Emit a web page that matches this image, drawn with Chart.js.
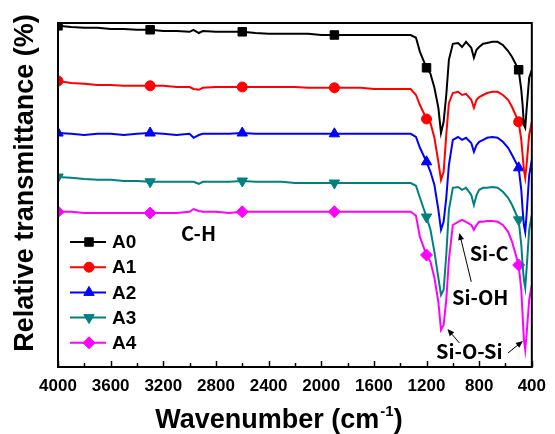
<!DOCTYPE html>
<html><head><meta charset="utf-8">
<script src="https://cdn.jsdelivr.net/npm/chart.js@4"></script>
<style>html,body{margin:0;padding:0;background:#fff}canvas{display:block}</style>
</head><body>
<canvas id="c" width="555" height="434"></canvas>
<script>
// Wavenumber grid (cm-1) shared by all spectra
const wavenumbers = [4000,3900,3800,3700,3600,3500,3400,3300,3200,3100,3000,2970,2930,2900,
  2800,2700,2600,2500,2400,2300,2200,2100,2000,1900,1800,1700,1600,1500,1400,
  1320,1280,1250,1200,1170,1140,1110,1090,1070,1050,1030,1000,
  960,930,900,860,840,820,800,770,740,700,660,620,580,550,
  500,480,470,460,450,440,420,400];

// Relative transmittance (arbitrary offset units)
const A0 = [85.3,85.0,84.8,84.8,84.5,84.5,84.3,84.3,84.0,84.0,83.8,84.3,83.5,84.0,
  83.8,83.8,83.8,83.5,83.3,83.3,83.3,83.3,83.0,83.0,83.0,83.0,83.0,83.0,83.0,
  83.0,82.3,78.8,74.8,73.3,69.8,64.8,58.5,61.3,68.0,76.8,80.8,
  81.0,80.0,81.3,79.8,77.3,79.3,80.0,80.8,81.0,81.3,81.3,80.5,79.0,77.5,
  74.3,69.3,65.5,60.5,59.8,64.3,72.3,74.3];
const A1 = [71.5,71.0,70.8,70.5,70.5,70.3,70.3,70.3,70.3,70.0,70.0,69.5,69.3,69.8,
  70.0,70.0,70.0,70.0,70.0,70.0,70.0,69.8,69.8,69.8,69.8,69.8,69.5,69.5,69.5,
  69.5,68.0,65.5,62.0,61.0,57.3,51.3,46.8,48.8,58.0,66.0,68.5,
  68.8,68.0,68.3,66.8,64.8,66.8,67.5,68.0,68.5,68.8,68.8,68.0,66.8,65.0,
  61.3,56.8,53.0,49.3,47.3,50.5,58.0,61.3];
const A2 = [58.5,58.3,58.0,58.3,58.3,58.0,58.3,58.5,58.3,58.0,58.3,57.3,58.0,58.3,
  58.3,58.3,58.5,58.3,58.3,58.3,58.3,58.3,58.3,58.3,58.3,58.3,58.3,58.3,58.3,
  58.3,57.5,54.8,51.3,48.8,45.5,39.3,34.3,36.3,42.3,50.5,56.8,
  57.5,56.8,57.3,56.0,53.8,55.5,56.3,56.8,57.3,57.5,57.3,56.3,54.8,53.0,
  49.8,44.3,39.3,35.5,33.8,38.0,48.0,51.8];
const A3 = [47.5,47.3,47.0,46.8,46.8,46.5,46.5,46.3,46.3,46.3,46.3,46.3,45.8,46.3,
  46.3,46.3,46.5,46.3,46.3,46.3,46.0,46.0,46.0,46.0,46.0,46.0,46.0,46.0,46.0,
  46.0,45.3,42.3,37.5,34.3,28.8,22.3,18.0,19.3,28.0,39.3,44.8,
  45.0,44.3,44.8,43.0,40.5,43.0,44.3,44.8,44.8,45.0,44.8,43.8,42.3,40.5,
  36.8,30.5,25.5,21.8,19.8,24.3,34.3,38.0];
const A4 = [38.8,38.8,38.5,38.5,38.5,38.5,38.5,38.5,38.5,38.5,38.8,39.5,39.0,38.8,
  38.8,38.5,38.8,38.8,38.8,38.8,38.8,38.8,38.8,38.8,38.8,38.8,38.8,38.8,38.8,
  38.8,37.8,32.5,28.0,26.3,22.3,16.3,9.3,10.5,16.8,26.8,35.5,
  36.3,36.8,36.3,35.5,34.3,35.5,36.3,36.3,36.5,36.5,36.3,35.5,33.8,31.3,
  25.5,19.3,13.0,6.8,4.3,8.0,16.8,20.5];

const seriesNames = ['A0','A1','A2','A3','A4'];
const seriesValues = [A0,A1,A2,A3,A4];
const seriesColors = ['#000000','#ff0000','#0000ff','#008080','#ff00ff'];
const seriesMarkers = ['rect','circle','triangle','triangle','rectRot'];
const markerRotation = [0,0,0,180,0];
const markerRadius = [6,5,6,6,6];
const markerWavenumbers = [4000,3300,2600,1900,1200,500];
const xTickValues = [4000,3600,3200,2800,2400,2000,1600,1200,800,400];
const xTickLabels = ['4000','3600','3200','2800','2400','2000','1600','1200','800','400'];

// Band labels: [text, wavenumber, value]
const bandLabels = [['C-H',2932,33.3],['Si-C',724,28.5],['Si-OH',792,17.5],['Si-O-Si',875,3.8]];
// Arrows: [fromWn, fromVal, toWn, toVal]
const bandArrows = [[860,21.3,950,33.5],[950,6.0,1041,9.5],[581,3.5,468,6.5]];

const datasets = seriesNames.map((name,i)=>({
  label: name,
  data: wavenumbers.map((w,j)=>({x:w,y:seriesValues[i][j]})),
  borderColor: seriesColors[i],
  backgroundColor: seriesColors[i],
  borderWidth: 2,
  tension: 0,
  pointStyle: seriesMarkers[i],
  rotation: markerRotation[i],
  pointRadius: ctx => markerWavenumbers.includes(wavenumbers[ctx.dataIndex]) ? markerRadius[i] : 0,
  pointBorderWidth: 1,
  pointBorderColor: seriesColors[i],
  pointBackgroundColor: seriesColors[i],
  clip: 0
}));

const decor = {
  id:'decor',
  afterDatasetsDraw(chart){
    const {ctx, chartArea:a, scales:{x,y}} = chart;
    ctx.save();
    // frame
    ctx.strokeStyle='#000'; ctx.lineWidth=2;
    ctx.strokeRect(a.left, a.top, a.right-a.left, a.bottom-a.top);
    // inward ticks
    ctx.lineWidth=1.5;
    for(let v=400; v<=4000; v+=200){
      const px = Math.round(x.getPixelForValue(v))+0.5;
      const len = (v%400===0)?6:4;
      ctx.beginPath(); ctx.moveTo(px,a.bottom); ctx.lineTo(px,a.bottom-len); ctx.stroke();
    }
    // legend
    seriesNames.forEach((n,i)=>{
      const yy = a.top + 219 + i*25.2;
      ctx.strokeStyle=seriesColors[i]; ctx.fillStyle=seriesColors[i]; ctx.lineWidth=2;
      ctx.beginPath(); ctx.moveTo(a.left+12,yy); ctx.lineTo(a.left+48,yy); ctx.stroke();
      ctx.lineWidth=1;
      Chart.helpers.drawPoint(ctx,{pointStyle:seriesMarkers[i],radius:markerRadius[i],rotation:markerRotation[i],borderWidth:1},a.left+31,yy);
      ctx.fillStyle='#000'; ctx.font='bold 19px "Liberation Sans", Arial, sans-serif';
      ctx.textAlign='left'; ctx.textBaseline='middle';
      ctx.fillText(n, a.left+54, yy+1);
    });
    // band labels
    ctx.fillStyle='#000'; ctx.textAlign='center'; ctx.textBaseline='middle';
    ctx.font='bold 20px "Noto Sans CJK KR", "Noto Sans", sans-serif';
    bandLabels.forEach(([t,w,v])=>ctx.fillText(t, x.getPixelForValue(w), y.getPixelForValue(v)));
    // arrows
    ctx.strokeStyle='#000'; ctx.fillStyle='#000'; ctx.lineWidth=1;
    bandArrows.forEach(([w1,v1,w2,v2])=>{
      const x1=x.getPixelForValue(w1), y1=y.getPixelForValue(v1), x2=x.getPixelForValue(w2), y2=y.getPixelForValue(v2);
      const ang=Math.atan2(y2-y1,x2-x1);
      ctx.beginPath(); ctx.moveTo(x1,y1); ctx.lineTo(x2-4*Math.cos(ang),y2-4*Math.sin(ang)); ctx.stroke();
      ctx.beginPath(); ctx.moveTo(x2,y2);
      ctx.lineTo(x2-7*Math.cos(ang)+3*Math.sin(ang), y2-7*Math.sin(ang)-3*Math.cos(ang));
      ctx.lineTo(x2-7*Math.cos(ang)-3*Math.sin(ang), y2-7*Math.sin(ang)+3*Math.cos(ang));
      ctx.closePath(); ctx.fill();
    });
    // axis titles
    ctx.fillStyle='#000';
    const big='bold 27px "Liberation Sans", Arial, sans-serif', small='bold 15px "Liberation Sans", Arial, sans-serif';
    ctx.font=big; const t1='Wavenumber (cm'; const w1=ctx.measureText(t1).width; const w3=ctx.measureText(')').width;
    ctx.font=small; const t2='-1'; const w2=ctx.measureText(t2).width;
    const total=w1+w2+w3+1; let sx=279-total/2; const by=428;
    ctx.textAlign='left'; ctx.textBaseline='alphabetic';
    ctx.font=big; ctx.fillText(t1,sx,by);
    ctx.font=small; ctx.fillText(t2,sx+w1+1,by-12);
    ctx.font=big; ctx.fillText(')',sx+w1+w2+1,by);
    ctx.save(); ctx.translate(26,183); ctx.rotate(-Math.PI/2);
    ctx.textAlign='center'; ctx.textBaseline='middle'; ctx.font=big;
    ctx.fillText('Relative transmittance (%)',0,0);
    ctx.restore();
    ctx.restore();
  }
};

new Chart(document.getElementById('c'),{
  type:'line',
  data:{datasets},
  options:{
    responsive:false, animation:false, devicePixelRatio:1,
    layout:{padding:{left:0,top:23,right:19,bottom:0}},
    plugins:{legend:{display:false},tooltip:{enabled:false}},
    scales:{
      x:{type:'linear',reverse:true,min:400,max:4000,
        afterBuildTicks: s=>{ s.ticks = xTickValues.map(v=>({value:v})); },
        afterFit: s=>{ s.height=67; },
        grid:{display:false,drawTicks:false}, border:{display:false},
        ticks:{autoSkip:false,maxRotation:0,padding:9,color:'#000',
          callback: v => xTickLabels[xTickValues.indexOf(v)] ?? String(v),
          font:{family:'"Liberation Sans", Arial, sans-serif',size:17,weight:'bold'}}},
      y:{min:0,max:86,
        afterFit: s=>{ s.width=58; },
        grid:{display:false,drawTicks:false}, border:{display:false},
        ticks:{display:false}}
    }
  },
  plugins:[decor]
});
</script>
</body></html>
